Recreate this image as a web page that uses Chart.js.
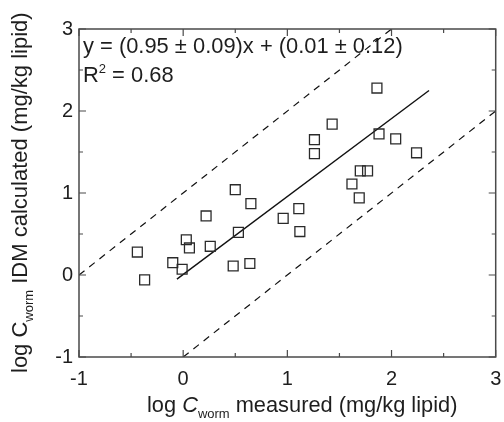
<!DOCTYPE html>
<html><head><meta charset="utf-8">
<script src="https://cdn.jsdelivr.net/npm/chart.js@4/dist/chart.umd.min.js"></script>
<style>html,body{margin:0;padding:0;background:#fff}#wrap{width:504px;height:422px}</style>
</head><body><div id="wrap"><canvas id="c" width="504" height="422"></canvas></div>
<script>
// Data
const measuredX = [1.86, 1.43, 1.26, 1.26, 1.88, 2.04, 2.24, 1.77, 1.70, 1.62, 1.69, 0.50, 0.65, 0.22, 0.96, 1.11, 1.12, 0.53, -0.44, -0.37, 0.03, 0.06, 0.26, -0.10, -0.01, 0.48, 0.64];
const calculatedY = [2.28, 1.84, 1.65, 1.48, 1.72, 1.66, 1.49, 1.27, 1.27, 1.11, 0.94, 1.04, 0.87, 0.72, 0.69, 0.81, 0.53, 0.52, 0.28, -0.06, 0.43, 0.33, 0.35, 0.15, 0.07, 0.11, 0.14];
const fitX = [-0.06, 2.36];
const fitY = [-0.05, 2.25];
const upperX = [-1, 2];
const upperY = [0, 3];
const lowerX = [0, 3];
const lowerY = [-1, 2];
const xTickValues = [-1, 0, 1, 2, 3];
const yTickValues = [-1, 0, 1, 2, 3];
const equationText = 'y = (0.95 \u00B1 0.09)x + (0.01 \u00B1 0.12)';
const r2Text = ' = 0.68';

const FONT = '"Liberation Sans", Arial, Helvetica, sans-serif';
const TEXT = '#1e1e1e';
const pts = (xs, ys) => xs.map((x, i) => ({x: x, y: ys[i]}));

function drawSeq(ctx, x, y, parts) {
  let cx = x;
  for (const p of parts) {
    ctx.font = (p.italic ? 'italic ' : '') + p.size + 'px ' + FONT;
    ctx.fillText(p.t, cx, y + (p.dy || 0));
    cx += ctx.measureText(p.t).width;
  }
}

const decor = {
  id: 'decor',
  beforeDatasetsDraw(chart) {
    const ctx = chart.ctx;
    ctx.save();
    ctx.fillStyle = TEXT;
    ctx.textBaseline = 'alphabetic';
    ctx.textAlign = 'left';
    drawSeq(ctx, 83, 53, [{t: equationText, size: 21.9}]);
    drawSeq(ctx, 83, 82, [{t: 'R', size: 21.9}, {t: '2', size: 13, dy: -9}, {t: r2Text, size: 21.9}]);
    ctx.restore();
  },
  afterDatasetsDraw(chart) {
    const ctx = chart.ctx;
    const a = chart.chartArea;
    const xs = chart.scales.x, ys = chart.scales.y;
    ctx.save();
    ctx.strokeStyle = '#4a4a4a';
    ctx.lineWidth = 1.5;
    ctx.strokeRect(a.left, a.top, a.right - a.left, a.bottom - a.top);
    ctx.lineWidth = 1.2;
    ctx.beginPath();
    for (let v = -1; v <= 3.001; v += 0.5) {
      const major = Math.abs(v - Math.round(v)) < 1e-6;
      const L = major ? 7 : 4;
      const px = xs.getPixelForValue(v);
      ctx.moveTo(px, a.bottom); ctx.lineTo(px, a.bottom - L);
      ctx.moveTo(px, a.top); ctx.lineTo(px, a.top + L);
      const py = ys.getPixelForValue(v);
      ctx.moveTo(a.left, py); ctx.lineTo(a.left + L, py);
      ctx.moveTo(a.right, py); ctx.lineTo(a.right - L, py);
    }
    ctx.stroke();
    // axis titles
    ctx.fillStyle = TEXT;
    ctx.textBaseline = 'alphabetic';
    ctx.textAlign = 'left';
    drawSeq(ctx, 147, 412, [
      {t: 'log ', size: 21.8}, {t: 'C', size: 21.8, italic: true},
      {t: 'worm', size: 13, dy: 6}, {t: ' measured (mg/kg lipid)', size: 21.8}]);
    ctx.translate(27, 373);
    ctx.rotate(-Math.PI / 2);
    drawSeq(ctx, 0, 0, [
      {t: 'log C', size: 22},
      {t: 'worm', size: 13, dy: 6}, {t: ' IDM calculated (mg/kg lipid)', size: 22}]);
    ctx.restore();
  }
};

new Chart(document.getElementById('c'), {
  type: 'scatter',
  data: {
    datasets: [
      {data: pts(measuredX, calculatedY), pointStyle: 'rect', pointRadius: 7, pointHoverRadius: 7,
       borderColor: '#2a2a2a', backgroundColor: 'rgba(0,0,0,0)', borderWidth: 1.3, showLine: false},
      {data: pts(fitX, fitY), showLine: true, borderColor: '#111', borderWidth: 1.4, pointRadius: 0, fill: false},
      {data: pts(upperX, upperY), showLine: true, borderColor: '#111', borderWidth: 1.2, borderDash: [7, 6], pointRadius: 0, fill: false},
      {data: pts(lowerX, lowerY), showLine: true, borderColor: '#111', borderWidth: 1.2, borderDash: [7, 6], pointRadius: 0, fill: false}
    ]
  },
  options: {
    responsive: false, animation: false, devicePixelRatio: 1,
    layout: {padding: {top: 29, right: 6, left: 0, bottom: 0}},
    plugins: {legend: {display: false}, tooltip: {enabled: false}},
    scales: {
      x: {type: 'linear', min: -1, max: 3,
          afterBuildTicks: s => { s.ticks = xTickValues.map(v => ({value: v})); },
          afterFit: s => { s.height = 65; s.paddingLeft = 0; s.paddingRight = 0; },
          grid: {display: false, drawTicks: false}, border: {display: false},
          ticks: {padding: 10, color: TEXT, font: {family: FONT, size: 20}}},
      y: {type: 'linear', min: -1, max: 3,
          afterBuildTicks: s => { s.ticks = yTickValues.map(v => ({value: v})); },
          afterFit: s => { s.width = 79; s.paddingTop = 0; s.paddingBottom = 0; },
          grid: {display: false, drawTicks: false}, border: {display: false},
          ticks: {padding: 6, color: TEXT, font: {family: FONT, size: 20}}}
    }
  },
  plugins: [decor]
});
</script></body></html>
